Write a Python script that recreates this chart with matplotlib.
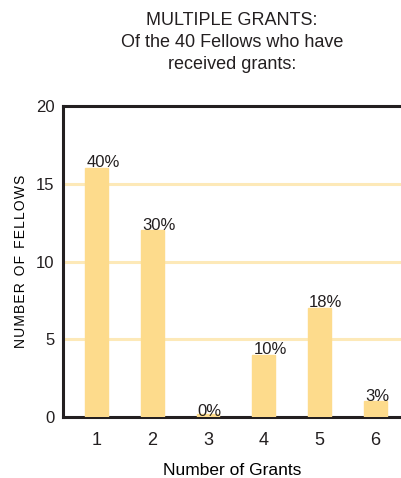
import numpy as np
import matplotlib.pyplot as plt

# colours
BAR_COLOR  = '#FDDB8C'
GRID_COLOR = '#FDE9B8'
AXIS_COLOR = '#231F20'
TEXT_COLOR = '#231F20'

plt.rcParams.update({
    'font.family': ['Liberation Sans', 'DejaVu Sans'],
    'text.color': TEXT_COLOR,
})

# data
grants   = [1, 2, 3, 4, 5, 6]
fellows  = [16, 12, 0, 4, 7, 1]
percents = ['40%', '30%', '0%', '10%', '18%', '3%']

fig = plt.figure(figsize=(4.01, 4.78), dpi=100)
ax = fig.add_axes([63/401, 61/478, 1 - 63/401, 311/478])

bw = 0.41
# zero-height bars still show a thin stub, as in the original
shown = [max(v, 0.22) for v in fellows]
ax.bar(grants, shown, width=bw, color=BAR_COLOR, edgecolor=BAR_COLOR,
       linewidth=1.0, zorder=3)

for x, v, p in zip(grants, fellows, percents):
    ax.text(x - bw/2 + 0.02, v + 0.05, p, ha='left', va='baseline',
            fontsize=12, zorder=4)

ax.set_xlim(0.4, 6.46)
ax.set_ylim(0, 20)
ax.set_xticks(grants)
ax.set_yticks([0, 5, 10, 15, 20])
ax.tick_params(axis='x', length=0, labelsize=13, pad=11, colors=TEXT_COLOR)
ax.tick_params(axis='y', length=0, labelsize=12, pad=6, colors=TEXT_COLOR)

for y in [5, 10, 15]:
    ax.axhline(y, color=GRID_COLOR, lw=2.2, zorder=1)

for s in ['left', 'top', 'bottom']:
    ax.spines[s].set_color(AXIS_COLOR)
    ax.spines[s].set_linewidth(2.2)
ax.spines['right'].set_visible(False)

ax.set_xlabel('Number of Grants', fontsize=12.5, labelpad=10)
ax.set_ylabel('N U M B E R   O F   F E L L O W S'.replace('   ', '\u2002').replace(' ', '\u200a'),
              fontsize=10, labelpad=6)

fig.text(232/401, 1 - 12/478,
         'MULTIPLE GRANTS:\nOf the 40 Fellows who have\nreceived grants:',
         ha='center', va='top', fontsize=13, linespacing=1.4)

fig.savefig('out.png', dpi=100, facecolor='white')
plt.close(fig)
